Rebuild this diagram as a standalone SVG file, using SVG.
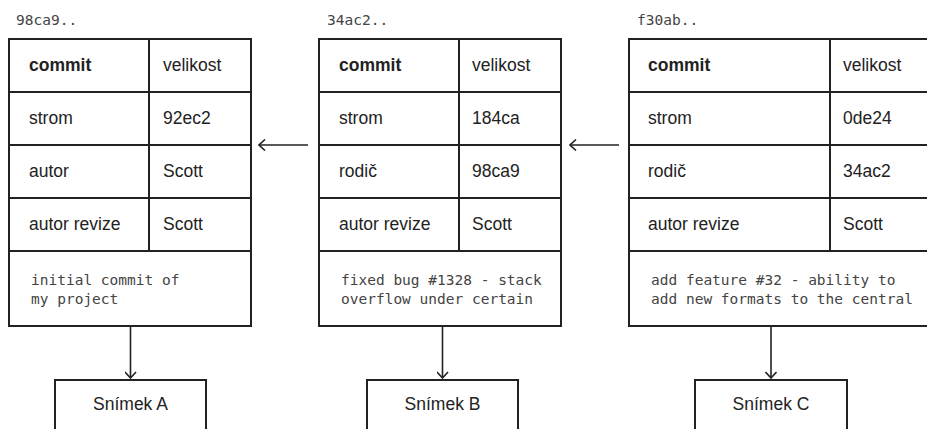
<svg xmlns="http://www.w3.org/2000/svg" width="927" height="429" viewBox="0 0 927 429">
<defs>
<style>
.b{fill:#fff;stroke:#222;stroke-width:2}
.l{stroke:#222;stroke-width:2;fill:none}
.t{font-family:"Liberation Sans",Arial,sans-serif;font-size:17.5px;fill:#222}
.bd{font-weight:bold}
.m{font-family:"DejaVu Sans Mono",monospace;font-size:14.5px;fill:#444}
.c{stroke:#222;stroke-width:1.6;fill:none}
</style>
<marker id="ah" viewBox="0 0 12 12" refX="11" refY="6" markerWidth="12" markerHeight="12" markerUnits="userSpaceOnUse" orient="auto">
<path d="M5,0.5 L11,6 L5,11.5" fill="none" stroke="#222" stroke-width="1.6"/>
</marker>
</defs>
<rect width="927" height="429" fill="#fff"/>

<g id="commit1">
<text class="m" x="16" y="25">98ca9..</text>
<rect class="b" x="9" y="39" width="242" height="287"/>
<path class="l" d="M9,92H251M9,145H251M9,198H251M9,251H251M149,39V251"/>
<text class="t bd" x="29" y="71">commit</text><text class="t" x="163" y="71">velikost</text>
<text class="t" x="29" y="124">strom</text><text class="t" x="163" y="124">92ec2</text>
<text class="t" x="29" y="177">autor</text><text class="t" x="163" y="177">Scott</text>
<text class="t" x="29" y="230">autor revize</text><text class="t" x="163" y="230">Scott</text>
<text class="m" x="31" y="285">initial commit of</text>
<text class="m" x="31" y="304">my project</text>
</g>

<g id="commit2">
<text class="m" x="327" y="25">34ac2..</text>
<rect class="b" x="319" y="39" width="242" height="287"/>
<path class="l" d="M319,92H561M319,145H561M319,198H561M319,251H561M459,39V251"/>
<text class="t bd" x="339" y="71">commit</text><text class="t" x="472" y="71">velikost</text>
<text class="t" x="339" y="124">strom</text><text class="t" x="472" y="124">184ca</text>
<text class="t" x="339" y="177">rodič</text><text class="t" x="472" y="177">98ca9</text>
<text class="t" x="339" y="230">autor revize</text><text class="t" x="472" y="230">Scott</text>
<text class="m" x="341" y="285">fixed bug #1328 - stack</text>
<text class="m" x="341" y="304">overflow under certain</text>
</g>

<g id="commit3">
<text class="m" x="637" y="25">f30ab..</text>
<rect class="b" x="629" y="39" width="310" height="287"/>
<path class="l" d="M629,92H939M629,145H939M629,198H939M629,251H939M830,39V251"/>
<text class="t bd" x="648" y="71">commit</text><text class="t" x="843" y="71">velikost</text>
<text class="t" x="648" y="124">strom</text><text class="t" x="843" y="124">0de24</text>
<text class="t" x="648" y="177">rodič</text><text class="t" x="843" y="177">34ac2</text>
<text class="t" x="648" y="230">autor revize</text><text class="t" x="843" y="230">Scott</text>
<text class="m" x="651" y="285">add feature #32 - ability to</text>
<text class="m" x="651" y="304">add new formats to the central</text>
</g>

<g id="snapA">
<rect class="b" x="55" y="380" width="151" height="60"/>
<text class="t" x="130.5" y="410" text-anchor="middle">Snímek A</text>
</g>
<g id="snapB">
<rect class="b" x="367" y="380" width="151" height="60"/>
<text class="t" x="442.5" y="410" text-anchor="middle">Snímek B</text>
</g>
<g id="snapC">
<rect class="b" x="695" y="380" width="152" height="60"/>
<text class="t" x="771" y="410" text-anchor="middle">Snímek C</text>
</g>

<g id="connectors">
<line class="c" x1="308" y1="145" x2="259" y2="145" marker-end="url(#ah)"/>
<line class="c" x1="619" y1="145" x2="570" y2="145" marker-end="url(#ah)"/>
<line class="c" x1="130.5" y1="327" x2="130.5" y2="378" marker-end="url(#ah)"/>
<line class="c" x1="442.5" y1="327" x2="442.5" y2="378" marker-end="url(#ah)"/>
<line class="c" x1="771" y1="327" x2="771" y2="378" marker-end="url(#ah)"/>
</g>
</svg>
